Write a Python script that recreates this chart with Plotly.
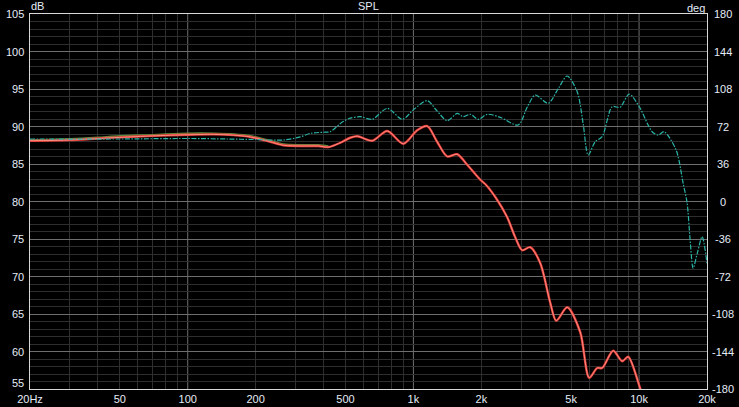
import math
import plotly.graph_objects as go

# ---------------- data ----------------
spl_freq = [20, 30, 40, 50, 70, 100, 130, 160, 190, 230, 265, 320, 380, 420, 480, 525, 565,
            657, 766, 902, 1040, 1152, 1272, 1413, 1564, 1732, 1979, 2100, 2330, 2604, 2820,
            3034, 3294, 3647, 4040, 4294, 4804, 5483, 6012, 6522, 6862, 7677, 8414, 8946,
            10108, 10800]
spl_db = [88.1, 88.2, 88.4, 88.55, 88.75, 88.9, 88.95, 88.85, 88.6, 88.0, 87.5, 87.4, 87.4,
          87.25, 87.9, 88.5, 88.7, 88.1, 89.4, 87.7, 89.5, 90.05, 88.0, 86.0, 86.3, 84.9,
          82.9, 82.2, 80.4, 77.9, 75.3, 73.5, 73.9, 71.8, 66.5, 64.1, 65.9, 62.6, 56.5, 57.8,
          57.8, 60.1, 58.7, 59.3, 55.1, 52.5]

green_freq = [20, 30, 40, 50, 70, 100, 130, 160, 190, 230, 265, 320, 380, 420]
green_db = [88.15, 88.3, 88.5, 88.7, 88.85, 89.05, 89.05, 88.95, 88.7, 88.1, 87.6, 87.5,
            87.5, 87.35]

phase_freq = [20, 50, 100, 150, 200, 265, 315, 349, 400, 428, 486, 525, 582, 657, 766, 893,
              1000, 1152, 1272, 1413, 1564, 1663, 1786, 1938, 2124, 2425, 2913, 3200, 3466,
              3957, 4400, 4804, 5318, 5650, 5950, 6390, 6862, 7598, 8244, 9038, 10020,
              11426, 12146, 12910, 14596, 15680, 16332, 16838, 17358, 18100, 19026, 20000]
phase_deg = [60, 60, 60.5, 60, 59.5, 59, 62, 65.4, 66.5, 67, 76.5, 80, 81.4, 78.9, 89.4,
             78.9, 88, 96.8, 87, 77.6, 84.6, 81.4, 83.7, 78.9, 83.7, 80.8, 73.4, 91, 102.2,
             94.3, 109, 120.5, 105.4, 75, 44.6, 57.4, 62.2, 91, 90.4, 103.2, 91, 67, 63.8,
             67, 49.4, 17.5, -1.7, -37, -64, -50, -33.8, -59.3]

x_tick_vals = [20, 50, 100, 200, 500, 1000, 2000, 5000, 10000, 20000]
x_tick_text = ["20Hz", "50", "100", "200", "500", "1k", "2k", "5k", "10k", "20k"]
x_minor_grid = [30, 40, 50, 60, 70, 80, 90, 200, 300, 400, 500, 600, 700, 800, 900,
                2000, 3000, 4000, 5000, 6000, 7000, 8000, 9000]
x_major_grid = [100, 1000, 10000]
db_ticks = [55, 60, 65, 70, 75, 80, 85, 90, 95, 100, 105]
deg_ticks = [-180, -144, -108, -72, -36, 0, 36, 72, 108, 144, 180]

TXT = "#e6ecf8"
FONT = "Liberation Sans, Arial, sans-serif"
tf = dict(color=TXT, size=11, family=FONT)

fig = go.Figure()

fig.add_trace(go.Scatter(x=phase_freq, y=phase_deg, yaxis="y2", mode="lines",
                         line=dict(color="#2bb5a8", width=1.2, dash="5px,1.5px,1.5px,1.5px",
                                   shape="spline", smoothing=0.8),
                         hoverinfo="skip", showlegend=False))
fig.add_trace(go.Scatter(x=green_freq, y=green_db, mode="lines",
                         line=dict(color="#5e8c3c", width=2.4, shape="spline", smoothing=0.8),
                         hoverinfo="skip", showlegend=False))
fig.add_trace(go.Scatter(x=spl_freq, y=spl_db, mode="lines",
                         line=dict(color="#e03834", width=2.4, shape="spline", smoothing=0.8),
                         hoverinfo="skip", showlegend=False))
fig.add_trace(go.Scatter(x=spl_freq, y=spl_db, mode="lines",
                         line=dict(color="#ff9a8c", width=0.9, shape="spline", smoothing=0.8),
                         hoverinfo="skip", showlegend=False))

shapes = [dict(type="line", xref="x", yref="paper", x0=f, x1=f, y0=0, y1=1,
               line=dict(color="#6e6e6e", width=1), layer="below") for f in x_major_grid]

annotations = [
    dict(text="SPL", xref="paper", yref="paper", x=0.4993, y=1.021, showarrow=False,
         font=tf, xanchor="center", yanchor="middle"),
    dict(text="dB", xref="paper", yref="paper", x=0.011, y=1.02, showarrow=False,
         font=tf, xanchor="center", yanchor="middle"),
    dict(text="deg", xref="paper", yref="paper", x=0.984, y=1.017, showarrow=False,
         font=tf, xanchor="center", yanchor="middle"),
]
for d in deg_ticks:
    annotations.append(dict(text=str(d), xref="paper", yref="y2", x=1, y=d, xshift=16,
                            showarrow=False, xanchor="center", yanchor="middle", font=tf))
for v in db_ticks:
    annotations.append(dict(text=str(v), xref="paper", yref="y", x=0, y=v, xshift=-4,
                            yshift=6 if v == 55 else 0,
                            showarrow=False, xanchor="right", yanchor="middle", font=tf))

fig.update_layout(
    width=739, height=407,
    margin=dict(l=30, r=32, t=14, b=18),
    paper_bgcolor="#000000", plot_bgcolor="#000000",
    font=dict(family=FONT, size=11, color=TXT),
    xaxis=dict(type="log", range=[math.log10(20), math.log10(20000)], automargin=False,
               tickvals=x_tick_vals, ticktext=x_tick_text, ticks="",
               showgrid=False, zeroline=False,
               minor=dict(tickvals=x_minor_grid, showgrid=True, gridcolor="#2e2e2e",
                          gridwidth=1, ticks=""),
               showline=True, mirror=True, linecolor="#d8d8d8", linewidth=1,
               tickfont=tf),
    yaxis=dict(range=[55, 105], tickvals=db_ticks, ticks="", showgrid=True, automargin=False,
               showticklabels=False,
               gridcolor="#6e6e6e", gridwidth=1, zeroline=False,
               minor=dict(dtick=1, showgrid=True, gridcolor="#2e2e2e", gridwidth=1, ticks=""),
               showline=True, mirror=True, linecolor="#d8d8d8", linewidth=1),
    yaxis2=dict(range=[-180, 180], overlaying="y", side="right", showgrid=False,
                automargin=False,
                zeroline=False, showticklabels=False, ticks="", showline=False),
    shapes=shapes,
    annotations=annotations,
)

fig.write_html("out.html", config={"displayModeBar": False},
               post_script="document.body.style.margin='0';document.body.style.background='#000';")
